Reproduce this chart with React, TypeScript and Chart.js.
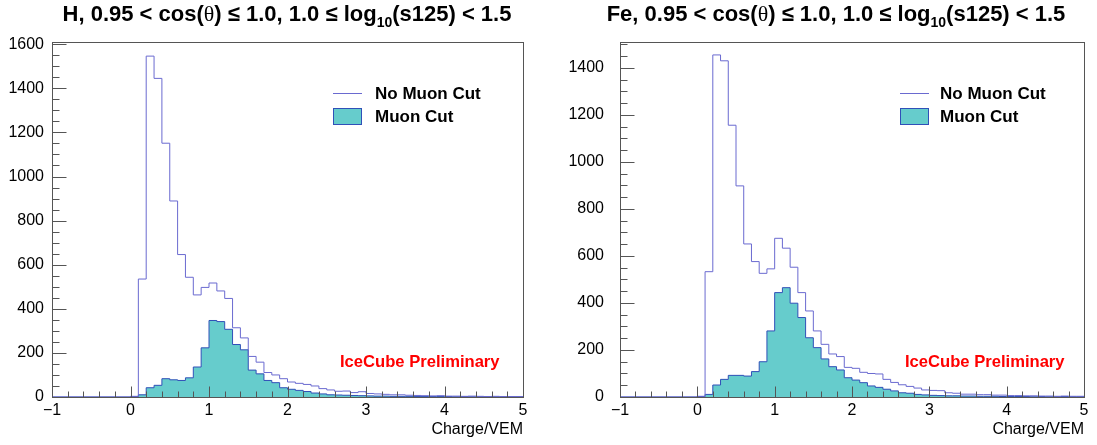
import React, { useEffect, useRef } from "react";
import { Chart, registerables } from "chart.js";

Chart.register(...registerables);

// ---------- data ----------
const X_MIN = -1;
const X_MAX = 5;
const FIRST_BIN_LOW = 0.0; // bins below 0.0 are empty
const BIN_WIDTH = 0.1;
const X_TICKS = [-1, 0, 1, 2, 3, 4, 5];
const H_Y_TICKS = [0, 200, 400, 600, 800, 1000, 1200, 1400, 1600];
const FE_Y_TICKS = [0, 200, 400, 600, 800, 1000, 1200, 1400];
const Y_MINOR_STEP = 50;
const X_MINOR_STEP = 0.2;

// H panel (bins 0.0-0.1, 0.1-0.2, ..., 4.9-5.0)
const H_NO_MUON_CUT = [
  3, 535, 1546, 1445, 1151, 889, 646, 543, 463, 497,
  517, 481, 447, 314, 268, 184, 158, 111, 100, 83,
  68, 62, 57, 50, 38, 32, 26, 27, 20, 24,
  16, 14, 12, 10, 10, 8, 7, 6, 5, 6,
  4, 4, 3, 4, 3, 2, 3, 2, 2, 2,
];
const H_MUON_CUT = [
  2, 10, 42, 53, 83, 78, 75, 87, 136, 223,
  347, 342, 307, 238, 214, 122, 105, 75, 65, 42,
  35, 30, 25, 18, 14, 10, 9, 8, 7, 6,
  5, 4, 4, 3, 3, 3, 2, 2, 2, 2,
  2, 1, 2, 1, 1, 2, 1, 1, 1, 1,
];

// Fe panel
const FE_NO_MUON_CUT = [
  3, 533, 1455, 1430, 1156, 898, 651, 576, 526, 545,
  675, 633, 552, 444, 366, 281, 224, 183, 172, 126,
  122, 105, 100, 98, 75, 62, 52, 45, 38, 30,
  28, 27, 18, 16, 12, 12, 10, 10, 8, 8,
  6, 6, 5, 5, 4, 4, 3, 4, 3, 3,
];
const FE_MUON_CUT = [
  2, 11, 51, 75, 92, 92, 89, 108, 150, 281,
  444, 465, 399, 338, 252, 210, 162, 129, 115, 82,
  72, 61, 47, 41, 33, 26, 18, 16, 11, 9,
  7, 6, 5, 5, 4, 4, 3, 3, 3, 2,
  2, 2, 2, 1, 2, 1, 1, 2, 1, 1,
];

const LEGEND_LABELS = ["No Muon Cut", "Muon Cut"];
const X_AXIS_TITLE = "Charge/VEM";
const WATERMARK = "IceCube Preliminary";

// ---------- styles ----------
const OUTLINE_COLOR = "#6a6ad0";
const FILL_COLOR = "#66cccc";
const FILL_LINE_COLOR = "#3050b8";
const FRAME_COLOR = "#555555";
const SANS = "'Liberation Sans', Arial, Helvetica, sans-serif";
const SERIF = "'Liberation Serif', 'DejaVu Serif', serif";

function histPoints(values: number[]) {
  const pts: { x: number; y: number }[] = [{ x: X_MIN, y: 0 }];
  values.forEach((v, i) => {
    pts.push({ x: Math.round((FIRST_BIN_LOW + i * BIN_WIDTH) * 100) / 100, y: v });
  });
  pts.push({ x: X_MAX, y: values[values.length - 1] });
  return pts;
}

type TitlePart = { text: string; font: string; dy?: number };

type PanelCfg = {
  canvasLeft: number;
  canvasWidth: number;
  padLeft: number;
  padRight: number;
  yAxisWidth: number;
  yLabelPad: number;
  yMax: number;
  yTicks: number[];
  noCut: number[];
  cut: number[];
  title: TitlePart[];
  titleCx: number;
  legendX: number;
  legendTextX: number;
  waterX: number;
};

const TITLE_SIZE = 22;
const B_T = `bold ${TITLE_SIZE}px ${SANS}`;
const B_SUB = `bold 14px ${SANS}`;
const S_T = `${TITLE_SIZE}px ${SERIF}`;

function makeTitle(elem: string): TitlePart[] {
  return [
    { text: `${elem}, 0.95 < cos(`, font: B_T },
    { text: "\u03b8", font: S_T },
    { text: ") \u2264 1.0, 1.0 \u2264 log", font: B_T },
    { text: "10", font: B_SUB, dy: 6 },
    { text: "(s125) < 1.5", font: B_T },
  ];
}

// right panel canvas starts at x=530 so its y labels are not clipped
const PANELS: PanelCfg[] = [
  {
    canvasLeft: 0,
    canvasWidth: 548,
    padLeft: 0,
    padRight: 25,
    yAxisWidth: 52,
    yLabelPad: 8,
    yMax: 1610,
    yTicks: H_Y_TICKS,
    noCut: H_NO_MUON_CUT,
    cut: H_MUON_CUT,
    title: makeTitle("H"),
    titleCx: 287,
    legendX: 333,
    legendTextX: 375,
    waterX: 340,
  },
  {
    canvasLeft: 530,
    canvasWidth: 567,
    padLeft: 20,
    padRight: 13,
    yAxisWidth: 70,
    yLabelPad: 16,
    yMax: 1510,
    yTicks: FE_Y_TICKS,
    noCut: FE_NO_MUON_CUT,
    cut: FE_MUON_CUT,
    title: makeTitle("Fe"),
    titleCx: 306,
    legendX: 370,
    legendTextX: 410,
    waterX: 375,
  },
];

function makePlugin(cfg: PanelCfg) {
  return {
    id: "rootStyle",
    afterDatasetsDraw(chart: any) {
      const { ctx, chartArea: ca, scales } = chart;
      const xs = scales.x;
      const ys = scales.y;
      ctx.save();
      ctx.strokeStyle = FRAME_COLOR;
      ctx.lineWidth = 1;
      const L = Math.round(ca.left) + 0.5;
      const R = Math.round(ca.right) + 0.5;
      const T = Math.round(ca.top) + 0.5;
      const Bt = Math.round(ca.bottom) + 0.5;
      ctx.strokeRect(L, T, R - L, Bt - T);
      ctx.beginPath();
      // y ticks (inward)
      const majorStep = cfg.yTicks[1] - cfg.yTicks[0];
      for (let v = 0; v <= cfg.yMax + 1e-6; v += Y_MINOR_STEP) {
        const major = Math.abs(v / majorStep - Math.round(v / majorStep)) < 1e-6;
        const y = Math.round(ys.getPixelForValue(v)) + 0.5;
        ctx.moveTo(L, y);
        ctx.lineTo(L + (major ? 14 : 7), y);
      }
      // x ticks (inward)
      const nMinor = Math.round((X_MAX - X_MIN) / X_MINOR_STEP);
      for (let k = 0; k <= nMinor; k++) {
        const v = X_MIN + k * X_MINOR_STEP;
        const major = X_TICKS.some((t) => Math.abs(t - v) < 1e-6);
        const x = Math.round(xs.getPixelForValue(v)) + 0.5;
        ctx.moveTo(x, Bt);
        ctx.lineTo(x, Bt - (major ? 11 : 6));
      }
      ctx.stroke();
      ctx.restore();
    },
    afterDraw(chart: any) {
      const { ctx, chartArea: ca } = chart;
      ctx.save();
      ctx.fillStyle = "#000";
      ctx.textBaseline = "alphabetic";
      // title
      let total = 0;
      const widths: number[] = [];
      for (const p of cfg.title) {
        ctx.font = p.font;
        const w = ctx.measureText(p.text).width;
        widths.push(w);
        total += w;
      }
      let x = cfg.titleCx - total / 2;
      cfg.title.forEach((p, i) => {
        ctx.font = p.font;
        ctx.fillText(p.text, x, 21 + (p.dy || 0));
        x += widths[i];
      });
      // legend
      ctx.strokeStyle = OUTLINE_COLOR;
      ctx.lineWidth = 1;
      ctx.beginPath();
      ctx.moveTo(cfg.legendX, 93.5);
      ctx.lineTo(cfg.legendX + 29, 93.5);
      ctx.stroke();
      ctx.fillStyle = FILL_COLOR;
      ctx.fillRect(cfg.legendX, 108, 29, 17);
      ctx.strokeStyle = FILL_LINE_COLOR;
      ctx.strokeRect(cfg.legendX + 0.5, 108.5, 28, 16);
      ctx.fillStyle = "#000";
      ctx.font = `bold 17px ${SANS}`;
      ctx.textBaseline = "middle";
      ctx.fillText(LEGEND_LABELS[0], cfg.legendTextX, 94);
      ctx.fillText(LEGEND_LABELS[1], cfg.legendTextX, 117);
      // watermark
      ctx.textBaseline = "alphabetic";
      ctx.fillStyle = "#ff0000";
      ctx.font = `bold 16.6px ${SANS}`;
      ctx.fillText(WATERMARK, cfg.waterX, 367);
      // x-axis title
      ctx.fillStyle = "#000";
      ctx.font = `16px ${SANS}`;
      ctx.textAlign = "right";
      ctx.fillText(X_AXIS_TITLE, ca.right, 434);
      ctx.restore();
    },
  };
}

function Panel({ cfg }: { cfg: PanelCfg }) {
  const ref = useRef<HTMLCanvasElement>(null);
  useEffect(() => {
    const font = { family: SANS, size: 16 };
    const chart = new Chart(ref.current!, {
      type: "line",
      data: {
        datasets: [
          {
            label: LEGEND_LABELS[0],
            data: histPoints(cfg.noCut),
            stepped: "before",
            borderColor: OUTLINE_COLOR,
            borderWidth: 1,
            fill: false,
            pointRadius: 0,
          },
          {
            label: LEGEND_LABELS[1],
            data: histPoints(cfg.cut),
            stepped: "before",
            borderColor: FILL_LINE_COLOR,
            backgroundColor: FILL_COLOR,
            borderWidth: 1,
            fill: "origin",
            pointRadius: 0,
          },
        ],
      },
      options: {
        responsive: false,
        animation: false,
        devicePixelRatio: 1,
        layout: { padding: { left: cfg.padLeft, right: cfg.padRight, top: 42, bottom: 18 } },
        plugins: {
          legend: { display: false },
          tooltip: { enabled: false },
          title: { display: false },
        },
        scales: {
          x: {
            type: "linear",
            min: X_MIN,
            max: X_MAX,
            grid: { display: false, drawTicks: false },
            border: { display: false },
            afterBuildTicks: (s: any) => {
              s.ticks = X_TICKS.map((v) => ({ value: v }));
            },
            ticks: {
              autoSkip: false,
              maxRotation: 0,
              padding: 4,
              color: "#000",
              font,
              callback: (v: any) => String(v).replace("-", "\u2212"),
            },
            afterFit: (s: any) => {
              s.height = 30;
            },
          },
          y: {
            type: "linear",
            min: 0,
            max: cfg.yMax,
            grid: { display: false, drawTicks: false },
            border: { display: false },
            afterBuildTicks: (s: any) => {
              s.ticks = cfg.yTicks.map((v) => ({ value: v }));
            },
            ticks: {
              autoSkip: false,
              padding: cfg.yLabelPad,
              color: "#000",
              font,
              callback: (v: any) => String(v),
            },
            afterFit: (s: any) => {
              s.width = cfg.yAxisWidth;
            },
          },
        },
      } as any,
      plugins: [makePlugin(cfg)],
    });
    return () => chart.destroy();
  }, []);
  return (
    <div style={{ position: "absolute", left: cfg.canvasLeft, top: 0, width: cfg.canvasWidth, height: 445 }}>
      <canvas ref={ref} width={cfg.canvasWidth} height={445} style={{ width: cfg.canvasWidth, height: 445 }} />
    </div>
  );
}

export default function App() {
  return (
    <div style={{ position: "fixed", left: 0, top: 0, width: 1097, height: 445, background: "#fff" }}>
      {PANELS.map((p, i) => (
        <Panel key={i} cfg={p} />
      ))}
    </div>
  );
}
